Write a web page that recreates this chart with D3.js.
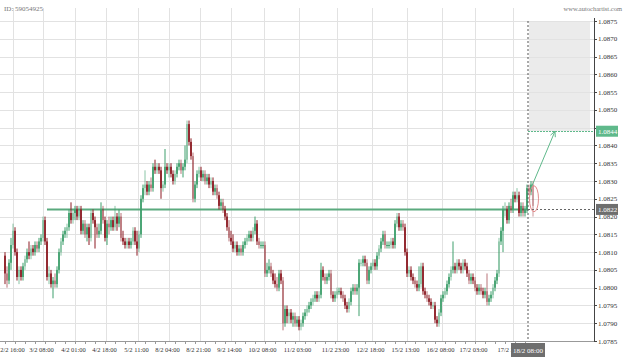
<!DOCTYPE html>
<html>
<head>
<meta charset="utf-8">
<script src="https://cdn.jsdelivr.net/npm/d3@7"></script>
<style>
  body { margin: 0; background: #fff; }
  svg text { font-family: "Liberation Serif", "DejaVu Serif", serif; }
</style>
</head>
<body>
<svg id="chart"></svg>
<script>
// hourly EUR/USD candles
var firstOpen = 1.0809;
var closes = [
  1.0804,1.0802,1.0807,1.0812,1.0816,1.0810,1.0803,1.0805,1.0803,1.0806,
  1.0808,1.0810,1.0809,1.0811,1.0810,1.0812,1.0811,1.0813,1.0814,1.0819,
  1.0813,1.0803,1.0804,1.0801,1.0802,1.0801,1.0805,1.0810,1.0813,1.0815,
  1.0816,1.0817,1.0821,1.0819,1.0821,1.0822,1.0820,1.0822,1.0816,1.0818,
  1.0815,1.0817,1.0814,1.0821,1.0819,1.0817,1.0815,1.0816,1.0822,1.0819,
  1.0814,1.0818,1.0817,1.0819,1.0817,1.0820,1.0818,1.0820,1.0814,1.0813,
  1.0812,1.0813,1.0812,1.0813,1.0816,1.0813,1.0811,1.0815,1.0825,1.0828,
  1.0829,1.0827,1.0829,1.0828,1.0834,1.0833,1.0834,1.0833,1.0828,1.0829,
  1.0834,1.0833,1.0834,1.0832,1.0830,1.0832,1.0834,1.0835,1.0833,1.0834,
  1.0836,1.0846,1.0841,1.0837,1.0825,1.0829,1.0832,1.0833,1.0831,1.0832,
  1.0830,1.0831,1.0829,1.0830,1.0827,1.0828,1.0826,1.0823,1.0824,1.0822,
  1.0820,1.0817,1.0814,1.0813,1.0811,1.0812,1.0810,1.0811,1.0810,1.0812,
  1.0813,1.0814,1.0815,1.0814,1.0816,1.0818,1.0813,1.0812,1.0812,1.0812,
  1.0804,1.0805,1.0806,1.0804,1.0802,1.0801,1.0800,1.0804,1.0802,1.0790,
  1.0794,1.0792,1.0793,1.0791,1.0792,1.0790,1.0791,1.0789,1.0790,1.0792,
  1.0793,1.0794,1.0795,1.0796,1.0797,1.0798,1.0797,1.0798,1.0805,1.0803,
  1.0802,1.0803,1.0804,1.0798,1.0797,1.0798,1.0799,1.0799,1.0798,1.0797,
  1.0795,1.0794,1.0796,1.0799,1.0800,1.0799,1.0800,1.0807,1.0807,1.0808,
  1.0807,1.0802,1.0805,1.0806,1.0807,1.0806,1.0809,1.0811,1.0813,1.0815,
  1.0812,1.0812,1.0812,1.0813,1.0812,1.0818,1.0820,1.0817,1.0818,1.0817,
  1.0810,1.0804,1.0805,1.0803,1.0802,1.0801,1.0800,1.0801,1.0806,1.0799,
  1.0798,1.0797,1.0796,1.0795,1.0795,1.0791,1.0790,1.0793,1.0797,1.0798,
  1.0799,1.0801,1.0803,1.0805,1.0806,1.0805,1.0807,1.0806,1.0805,1.0807,
  1.0806,1.0804,1.0802,1.0803,1.0802,1.0800,1.0799,1.0800,1.0799,1.0798,
  1.0799,1.0796,1.0797,1.0798,1.0800,1.0802,1.0804,1.0813,1.0816,1.0822,
  1.0822,1.0819,1.0823,1.0822,1.0826,1.0825,1.0826,1.0821,1.0823,1.0821,
  1.0822,1.0828,1.0827,1.0829,1.0823
];
var highs = [
  1.0810,1.0806,1.0808,1.0814,1.0818,1.0817,1.0811,1.0806,1.0806,1.0807,
  1.0809,1.0811,1.0813,1.0812,1.0812,1.0813,1.0813,1.0814,1.0815,1.0820,
  1.0820,1.0814,1.0806,1.0805,1.0803,1.0804,1.0806,1.0811,1.0814,1.0816,
  1.0817,1.0818,1.0822,1.0824,1.0822,1.0823,1.0823,1.0823,1.0823,1.0819,
  1.0819,1.0818,1.0818,1.0822,1.0822,1.0820,1.0818,1.0818,1.0824,1.0823,
  1.0820,1.0819,1.0820,1.0820,1.0820,1.0823,1.0821,1.0822,1.0821,1.0816,
  1.0814,1.0814,1.0814,1.0814,1.0817,1.0817,1.0816,1.0816,1.0826,1.0829,
  1.0833,1.0830,1.0830,1.0831,1.0835,1.0836,1.0835,1.0835,1.0834,1.0830,
  1.0839,1.0835,1.0835,1.0835,1.0833,1.0833,1.0835,1.0836,1.0836,1.0835,
  1.0840,1.0847,1.0847,1.0842,1.0838,1.0830,1.0833,1.0834,1.0834,1.0833,
  1.0833,1.0832,1.0832,1.0831,1.0831,1.0829,1.0829,1.0827,1.0825,1.0825,
  1.0823,1.0821,1.0819,1.0816,1.0815,1.0813,1.0813,1.0812,1.0812,1.0813,
  1.0814,1.0815,1.0816,1.0816,1.0817,1.0820,1.0819,1.0814,1.0813,1.0813,
  1.0813,1.0807,1.0808,1.0807,1.0805,1.0804,1.0803,1.0805,1.0805,1.0803,
  1.0795,1.0795,1.0794,1.0794,1.0793,1.0793,1.0792,1.0792,1.0791,1.0793,
  1.0794,1.0795,1.0796,1.0797,1.0798,1.0799,1.0799,1.0799,1.0807,1.0806,
  1.0804,1.0804,1.0805,1.0805,1.0799,1.0799,1.0800,1.0800,1.0800,1.0799,
  1.0798,1.0796,1.0797,1.0800,1.0801,1.0801,1.0801,1.0808,1.0808,1.0809,
  1.0809,1.0808,1.0806,1.0807,1.0808,1.0808,1.0810,1.0812,1.0814,1.0816,
  1.0816,1.0813,1.0813,1.0814,1.0814,1.0819,1.0821,1.0821,1.0819,1.0819,
  1.0818,1.0811,1.0806,1.0806,1.0804,1.0803,1.0802,1.0806,1.0807,1.0807,
  1.0800,1.0799,1.0798,1.0797,1.0796,1.0796,1.0792,1.0794,1.0798,1.0799,
  1.0800,1.0802,1.0804,1.0806,1.0813,1.0807,1.0808,1.0808,1.0807,1.0808,
  1.0808,1.0807,1.0805,1.0804,1.0804,1.0803,1.0801,1.0801,1.0801,1.0800,
  1.0800,1.0804,1.0798,1.0799,1.0801,1.0803,1.0805,1.0814,1.0817,1.0823,
  1.0824,1.0823,1.0824,1.0825,1.0827,1.0827,1.0828,1.0827,1.0824,1.0824,
  1.0823,1.0829,1.0829,1.0830,1.0830
];
var lows = [
  1.0801,1.0800,1.0801,1.0805,1.0811,1.0809,1.0802,1.0801,1.0802,1.0802,
  1.0805,1.0807,1.0808,1.0808,1.0809,1.0809,1.0810,1.0810,1.0812,1.0813,
  1.0812,1.0802,1.0801,1.0800,1.0797,1.0800,1.0800,1.0804,1.0809,1.0812,
  1.0814,1.0814,1.0816,1.0818,1.0818,1.0819,1.0819,1.0819,1.0815,1.0815,
  1.0814,1.0813,1.0812,1.0813,1.0818,1.0811,1.0814,1.0814,1.0815,1.0818,
  1.0813,1.0812,1.0815,1.0816,1.0816,1.0816,1.0816,1.0817,1.0813,1.0812,
  1.0811,1.0811,1.0811,1.0811,1.0812,1.0812,1.0809,1.0810,1.0814,1.0824,
  1.0826,1.0826,1.0826,1.0827,1.0827,1.0832,1.0832,1.0832,1.0825,1.0827,
  1.0828,1.0832,1.0831,1.0831,1.0829,1.0829,1.0831,1.0833,1.0832,1.0831,
  1.0833,1.0835,1.0840,1.0836,1.0824,1.0824,1.0828,1.0831,1.0830,1.0830,
  1.0829,1.0829,1.0828,1.0828,1.0826,1.0826,1.0825,1.0822,1.0822,1.0821,
  1.0819,1.0816,1.0813,1.0812,1.0810,1.0810,1.0809,1.0809,1.0809,1.0809,
  1.0811,1.0812,1.0813,1.0813,1.0813,1.0815,1.0812,1.0811,1.0811,1.0811,
  1.0803,1.0803,1.0804,1.0803,1.0801,1.0800,1.0799,1.0799,1.0801,1.0788,
  1.0789,1.0790,1.0790,1.0790,1.0789,1.0789,1.0789,1.0788,1.0788,1.0789,
  1.0791,1.0792,1.0793,1.0794,1.0795,1.0796,1.0796,1.0796,1.0797,1.0802,
  1.0801,1.0801,1.0802,1.0797,1.0796,1.0796,1.0797,1.0798,1.0797,1.0796,
  1.0794,1.0793,1.0793,1.0795,1.0798,1.0798,1.0798,1.0792,1.0806,1.0806,
  1.0806,1.0801,1.0801,1.0804,1.0805,1.0805,1.0805,1.0808,1.0810,1.0812,
  1.0811,1.0811,1.0811,1.0811,1.0811,1.0811,1.0817,1.0816,1.0816,1.0816,
  1.0809,1.0803,1.0803,1.0802,1.0801,1.0800,1.0799,1.0799,1.0800,1.0798,
  1.0797,1.0796,1.0795,1.0794,1.0794,1.0790,1.0789,1.0789,1.0792,1.0796,
  1.0797,1.0798,1.0800,1.0802,1.0804,1.0804,1.0804,1.0805,1.0804,1.0804,
  1.0805,1.0803,1.0801,1.0801,1.0801,1.0799,1.0798,1.0798,1.0798,1.0797,
  1.0797,1.0795,1.0795,1.0796,1.0797,1.0799,1.0801,1.0803,1.0812,1.0810,
  1.0820,1.0818,1.0818,1.0821,1.0821,1.0824,1.0824,1.0820,1.0820,1.0820,
  1.0820,1.0821,1.0826,1.0826,1.0820
];

// x axis labels and the candle they sit on
var tickLabels = ["2/2 16:00","3/2 08:00","4/2 01:00","4/2 18:00","5/2 11:00","8/2 04:00",
  "8/2 21:00","9/2 14:00","10/2 08:00","11/2 03:00","11/2 23:00","12/2 18:00",
  "15/2 13:00","16/2 08:00","17/2 03:00","17/2 22:00"];
var tickIndex = [4,19,35,50.5,66.5,82,97.5,113,129.5,147,166,183.5,201,218.5,235,254];

var nowIndex = 261.5;
var nowLabel = "18/2 08:00";
var supportLevel = 1.0822;
var supportStart = 21;
var targetLevel = 1.0844;
var forecastEnd = 292.5;
var arrowFrom = [263, 1.0828];
var arrowTo = [275, 1.0844];

var dimensions = {
  width: 625,
  height: 358,
  plotTop: 21,
  plotBottom: 341,
  axisX: 594,
};

var data = closes.map(function (c, i) {
  return {
    i: i,
    o: i === 0 ? firstOpen : closes[i - 1],
    h: highs[i],
    l: lows[i],
    c: c,
  };
});

var svg = d3
  .select("#chart")
  .attr("width", dimensions.width)
  .attr("height", dimensions.height);

var xScale = d3.scaleLinear().domain([0, 264]).range([5, 533]);
var yScale = d3
  .scaleLinear()
  .domain([1.0785, 1.0875])
  .range([dimensions.plotBottom, dimensions.plotTop]);

// forecast area
svg
  .append("rect")
  .attr("x", xScale(nowIndex + 0.5))
  .attr("y", yScale(1.0875))
  .attr("width", xScale(forecastEnd) - xScale(nowIndex + 0.5))
  .attr("height", yScale(targetLevel) - yScale(1.0875))
  .attr("fill", "#ebebeb");

// grid
var yTicks = d3.range(0, 19).map((k) => 1.0785 + k * 0.0005);
svg
  .selectAll(".hgrid")
  .data(yTicks)
  .enter()
  .append("line")
  .attr("x1", 0)
  .attr("x2", dimensions.axisX)
  .attr("y1", (d) => Math.round(yScale(d)) + 0.5)
  .attr("y2", (d) => Math.round(yScale(d)) + 0.5)
  .attr("stroke", "#e2e2e2");

svg
  .selectAll(".vgrid")
  .data(tickIndex)
  .enter()
  .append("line")
  .attr("x1", (d) => Math.round(xScale(d)) + 0.5)
  .attr("x2", (d) => Math.round(xScale(d)) + 0.5)
  .attr("y1", 8)
  .attr("y2", dimensions.plotBottom)
  .attr("stroke", "#e2e2e2");

// support line
svg
  .append("line")
  .attr("x1", xScale(supportStart))
  .attr("x2", xScale(nowIndex))
  .attr("y1", yScale(supportLevel))
  .attr("y2", yScale(supportLevel))
  .attr("stroke", "#5aaa7e")
  .attr("stroke-width", 2);

// candles
var green = "#3f9f6c";
var red = "#8c1b22";
var candleW = 1.7;

var candles = svg
  .selectAll(".candle")
  .data(data)
  .enter()
  .append("g")
  .attr("opacity", (d) => (d.i === data.length - 1 ? 0.45 : d.i % 3 === 1 ? 0.6 : 1));

candles
  .append("line")
  .attr("x1", (d) => xScale(d.i))
  .attr("x2", (d) => xScale(d.i))
  .attr("y1", (d) => yScale(d.h))
  .attr("y2", (d) => yScale(d.l))
  .attr("stroke", (d) => (d.c >= d.o ? green : red))
  .attr("stroke-width", 1);

candles
  .append("rect")
  .attr("x", (d) => xScale(d.i) - candleW / 2)
  .attr("y", (d) => yScale(Math.max(d.o, d.c)))
  .attr("width", candleW)
  .attr("height", (d) => Math.max(1, Math.abs(yScale(d.o) - yScale(d.c))))
  .attr("fill", (d) => (d.c >= d.o ? green : red));

// current time line
svg
  .append("line")
  .attr("x1", xScale(nowIndex))
  .attr("x2", xScale(nowIndex))
  .attr("y1", dimensions.plotTop)
  .attr("y2", dimensions.plotBottom)
  .attr("stroke", "#555")
  .attr("stroke-dasharray", "2,2");

svg
  .append("line")
  .attr("x1", xScale(nowIndex))
  .attr("x2", dimensions.axisX)
  .attr("y1", Math.round(yScale(supportLevel)) + 0.5)
  .attr("y2", Math.round(yScale(supportLevel)) + 0.5)
  .attr("stroke", "#666")
  .attr("stroke-dasharray", "2,2");

svg
  .append("line")
  .attr("x1", xScale(nowIndex))
  .attr("x2", dimensions.axisX)
  .attr("y1", Math.round(yScale(targetLevel)) + 0.5)
  .attr("y2", Math.round(yScale(targetLevel)) + 0.5)
  .attr("stroke", "#5fb98b")
  .attr("stroke-dasharray", "2,1");

// forecast arrow
var ax1 = xScale(arrowFrom[0]),
  ay1 = yScale(arrowFrom[1]),
  ax2 = xScale(arrowTo[0]),
  ay2 = yScale(arrowTo[1]);
var ang = Math.atan2(ay2 - ay1, ax2 - ax1);
svg
  .append("line")
  .attr("x1", ax1)
  .attr("y1", ay1)
  .attr("x2", ax2)
  .attr("y2", ay2)
  .attr("stroke", "#5fb98b");
svg
  .append("path")
  .attr(
    "d",
    "M" + (ax2 - 6 * Math.cos(ang - 0.45)) + "," + (ay2 - 6 * Math.sin(ang - 0.45)) +
      "L" + ax2 + "," + ay2 +
      "L" + (ax2 - 6 * Math.cos(ang + 0.45)) + "," + (ay2 - 6 * Math.sin(ang + 0.45))
  )
  .attr("fill", "none")
  .attr("stroke", "#5fb98b");

// ring round the last candle
svg
  .append("ellipse")
  .attr("cx", xScale(264.5))
  .attr("cy", yScale(1.0825))
  .attr("rx", 4.5)
  .attr("ry", 13)
  .attr("fill", "none")
  .attr("stroke", "#e38b8b");

// right axis
svg
  .append("line")
  .attr("x1", dimensions.axisX + 0.5)
  .attr("x2", dimensions.axisX + 0.5)
  .attr("y1", 18)
  .attr("y2", dimensions.plotBottom)
  .attr("stroke", "#444");

svg
  .selectAll(".ytick")
  .data(yTicks)
  .enter()
  .append("line")
  .attr("x1", dimensions.axisX)
  .attr("x2", dimensions.axisX + 3)
  .attr("y1", (d) => Math.round(yScale(d)) + 0.5)
  .attr("y2", (d) => Math.round(yScale(d)) + 0.5)
  .attr("stroke", "#444");

// the 1.0845 label sits under the target box, so it is left out
svg
  .selectAll(".ylabel")
  .data(yTicks.filter((d) => Math.abs(d - targetLevel) > 0.0002))
  .enter()
  .append("text")
  .attr("x", dimensions.axisX + 4)
  .attr("y", (d) => yScale(d) + 2.5)
  .attr("font-size", "7px")
  .attr("fill", "#333")
  .text((d) => d.toFixed(4));

// bottom axis
svg
  .append("line")
  .attr("x1", 0)
  .attr("x2", dimensions.axisX)
  .attr("y1", dimensions.plotBottom + 0.5)
  .attr("y2", dimensions.plotBottom + 0.5)
  .attr("stroke", "#999");

svg
  .selectAll(".xminor")
  .data(d3.range(0, 265, 5))
  .enter()
  .append("line")
  .attr("x1", (d) => Math.round(xScale(d)) + 0.5)
  .attr("x2", (d) => Math.round(xScale(d)) + 0.5)
  .attr("y1", dimensions.plotBottom)
  .attr("y2", dimensions.plotBottom + 3)
  .attr("stroke", "#999");

svg
  .selectAll(".xlabel")
  .data(tickLabels)
  .enter()
  .append("text")
  .attr("x", (d, i) => Math.max(12.5, xScale(tickIndex[i]) - 1.5))
  .attr("y", 352)
  .attr("text-anchor", "middle")
  .attr("font-size", "6.5px")
  .attr("fill", "#333")
  .text((d) => d);

// value boxes on the axis
function valueBox(level, color) {
  var y = yScale(level);
  svg
    .append("rect")
    .attr("x", dimensions.axisX + 2)
    .attr("y", y - 5.5)
    .attr("width", 22)
    .attr("height", 11)
    .attr("fill", color);
  svg
    .append("text")
    .attr("x", dimensions.axisX + 4)
    .attr("y", y + 2.5)
    .attr("font-size", "7px")
    .attr("fill", "#fff")
    .text(level.toFixed(4));
}
valueBox(targetLevel, "#5fb98b");
valueBox(supportLevel, "#6e6e6e");

// time box
var nx = xScale(nowIndex);
svg
  .append("rect")
  .attr("x", nx - 17)
  .attr("y", 343)
  .attr("width", 34)
  .attr("height", 14)
  .attr("fill", "#6e6e6e");
svg
  .append("text")
  .attr("x", nx)
  .attr("y", 352.5)
  .attr("text-anchor", "middle")
  .attr("font-size", "7px")
  .attr("fill", "#fff")
  .text(nowLabel);

// header
svg
  .append("text")
  .attr("x", 4)
  .attr("y", 11)
  .attr("font-size", "7px")
  .attr("fill", "#777")
  .text("ID: 59054925");
svg
  .append("text")
  .attr("x", 622)
  .attr("y", 11)
  .attr("text-anchor", "end")
  .attr("font-size", "6.5px")
  .attr("fill", "#777")
  .text("www.autochartist.com");
</script>
</body>
</html>
